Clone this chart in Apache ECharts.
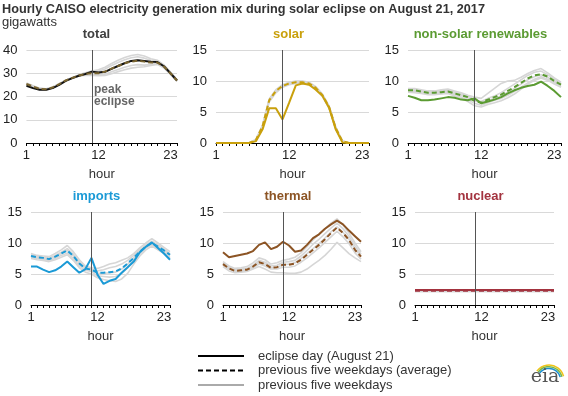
<!DOCTYPE html>
<html>
<head>
<meta charset="utf-8">
<script src="https://cdn.jsdelivr.net/npm/echarts@6/dist/echarts.min.js"></script>
<style>
  html, body { margin: 0; padding: 0; background: #fff; }
  #chart { width: 568px; height: 396px; }
</style>
</head>
<body>
<div id="chart"></div>
<script>
// hours of the day (hour ending), labels shown on the x axis
const hours = [1, 2, 3, 4, 5, 6, 7, 8, 9, 10, 11, 12, 13, 14, 15, 16, 17, 18, 19, 20, 21, 22, 23, 24]
const hourLabels = [1, 12, 23]
const peakHour = 11

// total
const totalEclipse = [24.6, 23.6, 22.9, 22.9, 23.6, 25.0, 26.7, 27.9, 28.9, 29.7, 30.7, 30.3, 30.6, 31.9, 33.1, 34.3, 35.3, 35.6, 35.3, 35.0, 34.8, 33.0, 30.0, 26.9]
const totalAvg = [25.4, 24.3, 23.3, 23.1, 23.9, 25.3, 26.9, 28.0, 29.0, 29.7, 30.0, 30.0, 30.7, 32.0, 33.1, 34.3, 35.0, 35.4, 35.0, 34.6, 34.6, 32.9, 30.0, 26.9]
const totalDays = [
  [25.8, 24.6, 23.6, 23.3, 24.1, 25.5, 27.0, 28.2, 29.3, 30.2, 31.0, 31.5, 32.6, 34.2, 35.6, 36.8, 37.6, 38.1, 37.4, 36.2, 35.6, 33.6, 30.5, 27.3],
  [25.6, 24.5, 23.5, 23.2, 24.0, 25.4, 27.0, 28.1, 29.2, 30.0, 30.6, 30.9, 31.8, 33.3, 34.6, 35.8, 36.7, 37.1, 36.5, 35.6, 35.2, 33.3, 30.3, 27.1],
  [25.4, 24.3, 23.3, 23.1, 23.9, 25.3, 26.9, 28.0, 29.0, 29.7, 30.0, 30.1, 30.8, 32.1, 33.3, 34.5, 35.2, 35.6, 35.2, 34.8, 34.8, 33.0, 30.0, 26.9],
  [25.2, 24.1, 23.1, 22.9, 23.8, 25.2, 26.8, 27.9, 28.8, 29.4, 29.5, 29.3, 29.6, 30.6, 31.6, 32.6, 33.3, 33.7, 33.5, 33.8, 34.2, 32.6, 29.8, 26.7],
  [25.0, 23.9, 23.0, 22.8, 23.7, 25.1, 26.7, 27.8, 28.7, 29.2, 29.1, 28.9, 29.0, 29.8, 30.7, 31.5, 32.2, 32.6, 32.8, 33.4, 33.8, 32.2, 29.5, 26.5]
]

// solar
const solarEclipse = [0, 0, 0, 0, 0, 0, 0.3, 2.2, 5.6, 5.6, 3.8, 6.5, 9.3, 9.6, 9.4, 8.6, 7.6, 5.7, 2.2, 0.1, 0, 0, 0, 0]
const solarAvg = [0, 0, 0, 0, 0, 0, 0.5, 2.7, 6.9, 8.4, 9.2, 9.6, 9.8, 9.8, 9.6, 8.9, 7.7, 5.8, 2.4, 0.3, 0, 0, 0, 0]
const solarDays = [
  [0, 0, 0, 0, 0, 0, 0.6, 2.9, 7.1, 8.6, 9.4, 9.8, 10.0, 10.0, 9.8, 9.1, 7.9, 6.0, 2.6, 0.3, 0, 0, 0, 0],
  [0, 0, 0, 0, 0, 0, 0.5, 2.8, 7.0, 8.5, 9.3, 9.7, 9.9, 9.9, 9.7, 9.0, 7.8, 5.9, 2.5, 0.3, 0, 0, 0, 0],
  [0, 0, 0, 0, 0, 0, 0.5, 2.7, 6.9, 8.4, 9.2, 9.6, 9.8, 9.8, 9.6, 8.9, 7.7, 5.8, 2.4, 0.3, 0, 0, 0, 0],
  [0, 0, 0, 0, 0, 0, 0.4, 2.6, 6.8, 8.3, 9.1, 9.5, 9.7, 9.7, 9.5, 8.8, 7.6, 5.7, 2.3, 0.2, 0, 0, 0, 0],
  [0, 0, 0, 0, 0, 0, 0.4, 2.5, 6.6, 8.1, 9.0, 9.4, 9.6, 9.6, 9.4, 8.7, 7.5, 5.6, 2.2, 0.2, 0, 0, 0, 0]
]

// non-solar renewables
const renewEclipse = [7.6, 7.3, 6.9, 6.9, 7.0, 7.2, 7.4, 7.3, 7.0, 6.9, 7.2, 6.4, 6.7, 7.0, 7.4, 8.0, 8.5, 8.9, 9.2, 9.4, 9.9, 9.2, 8.4, 7.4]
const renewAvg = [8.5, 8.5, 8.3, 8.1, 8.1, 8.2, 8.3, 8.0, 7.7, 7.4, 6.8, 6.5, 7.0, 7.4, 7.8, 8.4, 9.0, 9.7, 10.4, 10.9, 11.1, 10.7, 10.0, 9.4]
const renewDays = [
  [8.8, 8.8, 8.6, 8.4, 8.4, 8.6, 8.7, 8.4, 8.1, 7.7, 7.4, 7.2, 8.0, 8.8, 9.6, 10.0, 10.1, 10.6, 11.2, 11.7, 12.0, 11.3, 10.5, 9.8],
  [8.7, 8.6, 8.4, 8.3, 8.3, 8.4, 8.5, 8.2, 7.9, 7.6, 7.0, 6.7, 7.2, 7.6, 8.1, 8.8, 9.5, 10.2, 10.9, 11.4, 11.6, 11.0, 10.3, 9.6],
  [8.5, 8.5, 8.3, 8.1, 8.1, 8.2, 8.3, 8.0, 7.7, 7.3, 6.8, 6.5, 6.8, 7.2, 7.6, 8.2, 8.8, 9.5, 10.2, 10.7, 11.0, 10.6, 9.9, 9.3],
  [8.3, 8.3, 8.1, 7.9, 7.9, 8.0, 8.1, 7.8, 7.4, 7.0, 6.4, 6.1, 6.5, 6.9, 7.2, 7.7, 8.3, 9.0, 9.7, 10.3, 10.7, 10.3, 9.7, 9.1],
  [8.2, 8.1, 8.0, 7.8, 7.8, 7.9, 8.0, 7.6, 7.2, 6.7, 6.0, 5.8, 6.2, 6.5, 6.8, 7.3, 7.9, 8.7, 9.5, 10.1, 10.5, 10.1, 9.5, 9.0]
]

// imports
const importsEclipse = [6.2, 6.2, 5.7, 5.3, 5.6, 6.2, 7.0, 6.1, 5.2, 5.8, 7.6, 4.9, 3.4, 3.9, 4.2, 5.2, 6.1, 7.0, 8.5, 9.4, 10.1, 9.2, 8.3, 7.3]
const importsAvg = [7.9, 7.7, 7.6, 7.4, 7.8, 8.3, 8.8, 7.9, 6.7, 5.9, 5.7, 5.2, 5.2, 5.3, 5.4, 5.9, 6.7, 7.6, 8.6, 9.4, 10.0, 9.4, 8.8, 8.1]
const importsDays = [
  [8.3, 8.0, 7.9, 7.8, 8.3, 8.9, 9.6, 8.6, 7.3, 6.3, 6.0, 5.9, 6.2, 6.6, 6.8, 7.2, 7.6, 8.3, 9.2, 10.0, 10.7, 10.0, 9.3, 8.6],
  [8.1, 7.9, 7.7, 7.6, 8.0, 8.5, 9.1, 8.2, 7.0, 6.1, 5.8, 5.5, 5.7, 6.0, 6.2, 6.6, 7.2, 8.0, 8.9, 9.7, 10.3, 9.7, 9.0, 8.3],
  [7.9, 7.7, 7.6, 7.4, 7.8, 8.3, 8.8, 7.9, 6.7, 5.9, 5.6, 5.1, 5.1, 5.2, 5.3, 5.8, 6.6, 7.6, 8.6, 9.4, 10.0, 9.4, 8.8, 8.1],
  [7.7, 7.5, 7.4, 7.2, 7.5, 8.0, 8.4, 7.5, 6.3, 5.6, 5.4, 4.7, 4.6, 4.5, 4.6, 5.1, 6.0, 7.2, 8.3, 9.2, 9.7, 9.1, 8.5, 7.8],
  [7.5, 7.3, 7.2, 7.0, 7.3, 7.7, 8.1, 7.2, 6.0, 5.3, 5.0, 4.4, 4.1, 3.9, 3.8, 4.2, 5.1, 6.6, 7.9, 8.9, 9.5, 8.9, 8.3, 7.6]
]

// thermal
const thermalEclipse = [8.5, 7.7, 7.9, 8.1, 8.3, 8.7, 9.7, 10.1, 9.0, 9.4, 10.2, 9.6, 8.6, 8.8, 9.7, 10.8, 11.4, 12.3, 13.0, 13.6, 13.0, 12.0, 11.1, 10.2]
const thermalAvg = [6.6, 5.9, 5.5, 5.6, 5.7, 6.2, 6.9, 6.6, 6.0, 6.1, 6.5, 6.5, 6.7, 7.3, 8.1, 8.9, 9.7, 10.6, 11.6, 12.5, 11.6, 10.5, 8.9, 7.8]
const thermalDays = [
  [7.0, 6.3, 5.9, 6.0, 6.2, 6.8, 7.6, 7.3, 6.6, 6.8, 7.2, 7.4, 7.7, 8.4, 9.4, 10.5, 11.4, 12.3, 13.2, 13.9, 12.9, 11.6, 10.0, 8.6],
  [6.8, 6.1, 5.7, 5.8, 5.9, 6.4, 7.2, 6.9, 6.3, 6.4, 6.9, 7.0, 7.2, 7.9, 8.8, 9.8, 10.6, 11.5, 12.4, 13.2, 12.3, 11.1, 9.5, 8.2],
  [6.6, 5.9, 5.5, 5.6, 5.7, 6.2, 6.9, 6.6, 6.0, 6.1, 6.5, 6.6, 6.8, 7.5, 8.3, 9.1, 9.9, 10.8, 11.8, 12.6, 11.7, 10.6, 9.0, 7.9],
  [6.4, 5.8, 5.4, 5.5, 5.6, 6.0, 6.6, 6.3, 5.8, 5.8, 6.1, 6.1, 6.3, 6.9, 7.6, 8.4, 9.2, 10.1, 11.0, 11.9, 11.0, 9.9, 8.4, 7.4],
  [6.2, 5.5, 5.2, 5.3, 5.4, 5.8, 6.2, 5.8, 5.3, 5.2, 5.2, 5.1, 5.1, 5.3, 5.8, 6.5, 7.2, 8.0, 9.0, 10.1, 9.2, 8.3, 7.6, 7.0]
]

// nuclear
const nuclearEclipse = [2.4, 2.4, 2.4, 2.4, 2.4, 2.4, 2.4, 2.4, 2.4, 2.4, 2.4, 2.4, 2.4, 2.4, 2.4, 2.4, 2.4, 2.4, 2.4, 2.4, 2.4, 2.4, 2.4, 2.4]
const nuclearAvg = [2.3, 2.3, 2.3, 2.3, 2.3, 2.3, 2.3, 2.3, 2.3, 2.3, 2.3, 2.3, 2.3, 2.3, 2.3, 2.3, 2.3, 2.3, 2.3, 2.3, 2.3, 2.3, 2.3, 2.3]
const nuclearDays = [
  [2.4, 2.4, 2.4, 2.4, 2.4, 2.4, 2.4, 2.4, 2.4, 2.4, 2.4, 2.4, 2.4, 2.4, 2.4, 2.4, 2.4, 2.4, 2.4, 2.4, 2.4, 2.4, 2.4, 2.4],
  [2.3, 2.3, 2.3, 2.3, 2.3, 2.3, 2.3, 2.3, 2.3, 2.3, 2.3, 2.3, 2.3, 2.3, 2.3, 2.3, 2.3, 2.3, 2.3, 2.3, 2.3, 2.3, 2.3, 2.3],
  [2.3, 2.3, 2.3, 2.3, 2.3, 2.3, 2.3, 2.3, 2.3, 2.3, 2.3, 2.3, 2.3, 2.3, 2.3, 2.3, 2.3, 2.3, 2.3, 2.3, 2.3, 2.3, 2.3, 2.3],
  [2.2, 2.2, 2.2, 2.2, 2.2, 2.2, 2.2, 2.2, 2.2, 2.2, 2.2, 2.2, 2.2, 2.2, 2.2, 2.2, 2.2, 2.2, 2.2, 2.2, 2.2, 2.2, 2.2, 2.2],
  [2.2, 2.2, 2.2, 2.2, 2.2, 2.2, 2.2, 2.2, 2.2, 2.2, 2.2, 2.2, 2.2, 2.2, 2.2, 2.2, 2.2, 2.2, 2.2, 2.2, 2.2, 2.2, 2.2, 2.2]
]

const FONT = '"Liberation Sans", Arial, sans-serif'

const panels = [
  { title: 'total', titleColor: '#404040', color: '#111', avgColor: '#7a6530', eclipse: totalEclipse, avg: totalAvg, days: totalDays, max: 40, step: 10, left: 24, top: 50, width: 153 },
  { title: 'solar', titleColor: '#c9a00c', color: '#c9a00c', avgColor: '#c9a00c', eclipse: solarEclipse, avg: solarAvg, days: solarDays, max: 15, step: 5, left: 216, top: 50, width: 153 },
  { title: 'non-solar renewables', titleColor: '#5b9b32', color: '#5b9b32', avgColor: '#5b9b32', eclipse: renewEclipse, avg: renewAvg, days: renewDays, max: 15, step: 5, left: 408, top: 50, width: 153 },
  { title: 'imports', titleColor: '#1b9ad6', color: '#1b9ad6', avgColor: '#1b9ad6', eclipse: importsEclipse, avg: importsAvg, days: importsDays, max: 15, step: 5, left: 31, top: 212, width: 139 },
  { title: 'thermal', titleColor: '#8c5424', color: '#8c5424', avgColor: '#8c5424', eclipse: thermalEclipse, avg: thermalAvg, days: thermalDays, max: 15, step: 5, left: 223, top: 212, width: 138 },
  { title: 'nuclear', titleColor: '#a3333f', color: '#a3333f', avgColor: '#a3333f', eclipse: nuclearEclipse, avg: nuclearAvg, days: nuclearDays, max: 15, step: 5, left: 415, top: 212, width: 139 }
]
const plotHeight = 93

function pairs(arr) {
  return hours.map((h, k) => [h, arr[k]])
}

const grid = []
const xAxis = []
const yAxis = []
const series = []
const graphic = []

panels.forEach((p, i) => {
  grid.push({ left: p.left, top: p.top, width: p.width, height: plotHeight })
  xAxis.push({
    gridIndex: i,
    type: 'value',
    min: 1,
    max: 24,
    interval: 1,
    name: 'hour',
    nameLocation: 'middle',
    nameGap: 25,
    nameTextStyle: { color: '#333', fontSize: 13, fontFamily: FONT },
    axisLine: { lineStyle: { color: '#000', width: 1 } },
    axisTick: { length: 3, lineStyle: { color: '#000' } },
    axisLabel: {
      color: '#222',
      fontSize: 13,
      fontFamily: FONT,
      margin: 6,
      formatter: v => (hourLabels.indexOf(v) >= 0 ? String(v) : '')
    },
    splitLine: { show: false }
  })
  yAxis.push({
    gridIndex: i,
    type: 'value',
    min: 0,
    max: p.max,
    interval: p.step,
    axisLine: { show: false },
    axisTick: { show: false },
    axisLabel: { color: '#222', fontSize: 13, fontFamily: FONT, margin: 9 },
    splitLine: { lineStyle: { color: '#d9d9d9', width: 1 } }
  })

  // previous five weekdays (light grey)
  p.days.forEach(d => {
    series.push({
      type: 'line', xAxisIndex: i, yAxisIndex: i, data: pairs(d),
      symbol: 'none', silent: true, animation: false,
      lineStyle: { color: '#d6d6d6', width: 1.6 }
    })
  })
  // eclipse day
  series.push({
    type: 'line', xAxisIndex: i, yAxisIndex: i, data: pairs(p.eclipse),
    symbol: 'none', silent: true, animation: false,
    lineStyle: { color: p.color, width: 2 },
    markLine: {
      silent: true, animation: false, symbol: ['none', 'none'],
      label: { show: false },
      lineStyle: { color: '#555', width: 1, type: 'solid' },
      data: [{ xAxis: peakHour }]
    }
  })
  // previous five weekdays average
  series.push({
    type: 'line', xAxisIndex: i, yAxisIndex: i, data: pairs(p.avg),
    symbol: 'none', silent: true, animation: false,
    lineStyle: { color: p.avgColor, width: 2, type: [5, 3] }
  })

  graphic.push({
    type: 'text', x: p.left + p.width / 2 - 4, y: p.top - 16,
    style: { text: p.title, fill: p.titleColor, font: 'bold 13px ' + FONT, textAlign: 'center', textVerticalAlign: 'middle' }
  })
})

// peak eclipse note
graphic.push(
  { type: 'text', x: 94, y: 90, style: { text: 'peak', fill: '#666', font: 'bold 12px ' + FONT, textVerticalAlign: 'middle' } },
  { type: 'text', x: 94, y: 102, style: { text: 'eclipse', fill: '#666', font: 'bold 12px ' + FONT, textVerticalAlign: 'middle' } }
)

// main title
graphic.push(
  { type: 'text', x: 2, y: 9, style: { text: 'Hourly CAISO electricity generation mix during solar eclipse on August 21, 2017', fill: '#333', font: 'bold 12.7px ' + FONT, textVerticalAlign: 'middle' } },
  { type: 'text', x: 2, y: 22, style: { text: 'gigawatts', fill: '#333', font: '13px ' + FONT, textVerticalAlign: 'middle' } }
)

// legend
const legendItems = [
  { label: 'eclipse day (August 21)', color: '#000', dash: null },
  { label: 'previous five weekdays (average)', color: '#000', dash: [5, 3] },
  { label: 'previous five weekdays', color: '#aaa', dash: null }
]
legendItems.forEach((it, k) => {
  const y = 356 + k * 14.5
  graphic.push(
    { type: 'line', shape: { x1: 198, y1: y, x2: 244, y2: y }, style: { stroke: it.color, lineWidth: 2, lineDash: it.dash } },
    { type: 'text', x: 258, y: y, style: { text: it.label, fill: '#333', font: '13px ' + FONT, textVerticalAlign: 'middle' } }
  )
})

// eia logo: three small arcs over the letters
const logoArcs = [
  { r: 15, color: '#f0c419' },
  { r: 13.3, color: '#7ab648' },
  { r: 11.6, color: '#1a8fd2' }
]
logoArcs.forEach(a => {
  graphic.push({
    type: 'arc',
    shape: { cx: 549, cy: 380, r: a.r, startAngle: Math.PI * 1.2, endAngle: Math.PI * 1.92, clockwise: true },
    style: { stroke: a.color, lineWidth: 1.5, fill: null }
  })
})
graphic.push({
  type: 'text', x: 545, y: 377,
  style: { text: 'eia', fill: '#555', font: '19px "DejaVu Serif", serif', textAlign: 'center', textVerticalAlign: 'middle' }
})

const chart = echarts.init(document.getElementById('chart'), null, { renderer: 'canvas' })
chart.setOption({
  animation: false,
  backgroundColor: '#fff',
  grid,
  xAxis,
  yAxis,
  series,
  graphic
})
</script>
</body>
</html>
